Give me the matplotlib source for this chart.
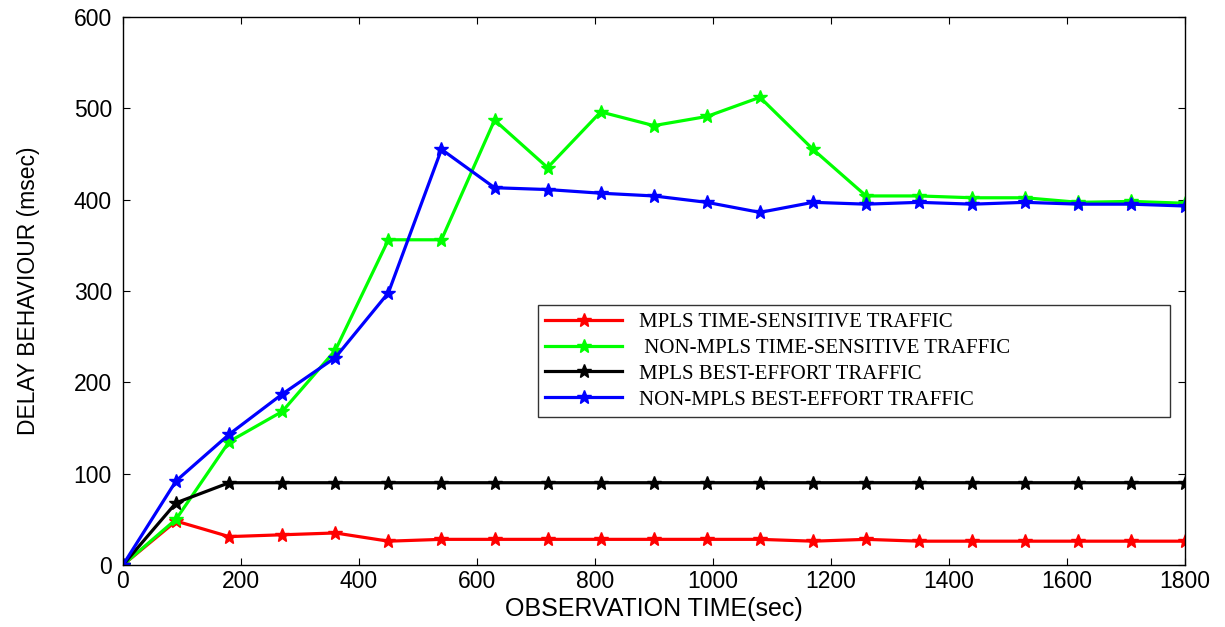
import matplotlib
matplotlib.use("Agg")
import matplotlib.pyplot as plt

# observation time (sec)
time_sec = [0, 90, 180, 270, 360, 450, 540, 630, 720, 810, 900, 990, 1080,
            1170, 1260, 1350, 1440, 1530, 1620, 1710, 1800]

mpls_ts = [0, 48, 31, 33, 35, 26, 28, 28, 28, 28, 28, 28, 28, 26, 28, 26,
           26, 26, 26, 26, 26]
non_mpls_ts = [0, 50, 135, 168, 235, 356, 356, 487, 435, 496, 481, 491, 512,
               455, 404, 404, 402, 402, 397, 398, 396]
mpls_be = [0, 68, 90, 90, 90, 90, 90, 90, 90, 90, 90, 90, 90, 90, 90, 90,
           90, 90, 90, 90, 90]
non_mpls_be = [0, 92, 143, 187, 227, 298, 455, 413, 411, 407, 404, 397, 386,
               397, 395, 397, 395, 397, 395, 395, 393]

labels = ["MPLS TIME-SENSITIVE TRAFFIC",
          " NON-MPLS TIME-SENSITIVE TRAFFIC",
          "MPLS BEST-EFFORT TRAFFIC",
          "NON-MPLS BEST-EFFORT TRAFFIC"]
colors = ["#ff0000", "#00ff00", "#000000", "#0000ff"]

plt.rcParams["font.family"] = ["Liberation Sans", "DejaVu Sans"]

fig = plt.figure(figsize=(12.25, 6.27), dpi=100)
ax = fig.add_axes([0.1004, 0.099, 0.8666, 0.874])

for ys, c, lab in zip([mpls_ts, non_mpls_ts, mpls_be, non_mpls_be], colors, labels):
    ax.plot(time_sec, ys, "-*", color=c, lw=2.3, ms=10, label=lab)

ax.set_xlim(0, 1800)
ax.set_ylim(0, 600)
ax.set_xticks(range(0, 1801, 200))
ax.set_yticks(range(0, 601, 100))
ax.tick_params(direction="in", top=True, right=True, labelsize=16.5, length=5)
ax.tick_params(axis="y", pad=8)
ax.tick_params(axis="x", pad=4)
for s in ax.spines.values():
    s.set_linewidth(1.0)

ax.set_xlabel("OBSERVATION TIME(sec)", fontsize=18)
ax.set_ylabel("DELAY BEHAVIOUR (msec)", fontsize=16.5)
ax.xaxis.set_label_coords(0.5, -0.058)
ax.yaxis.set_label_coords(-0.078, 0.5)

# legend box sits over the lower-right middle of the axes
leg = ax.legend(loc="upper left", bbox_to_anchor=(0.391, 0.265, 0.595, 0.209),
                mode="expand", borderaxespad=0,
                prop={"family": "Liberation Serif", "size": 15},
                frameon=True, fancybox=False, edgecolor="black",
                handlelength=3.7, borderpad=0.35, labelspacing=0.3)
leg.get_frame().set_linewidth(1.0)

fig.savefig("out.png", dpi=100)
